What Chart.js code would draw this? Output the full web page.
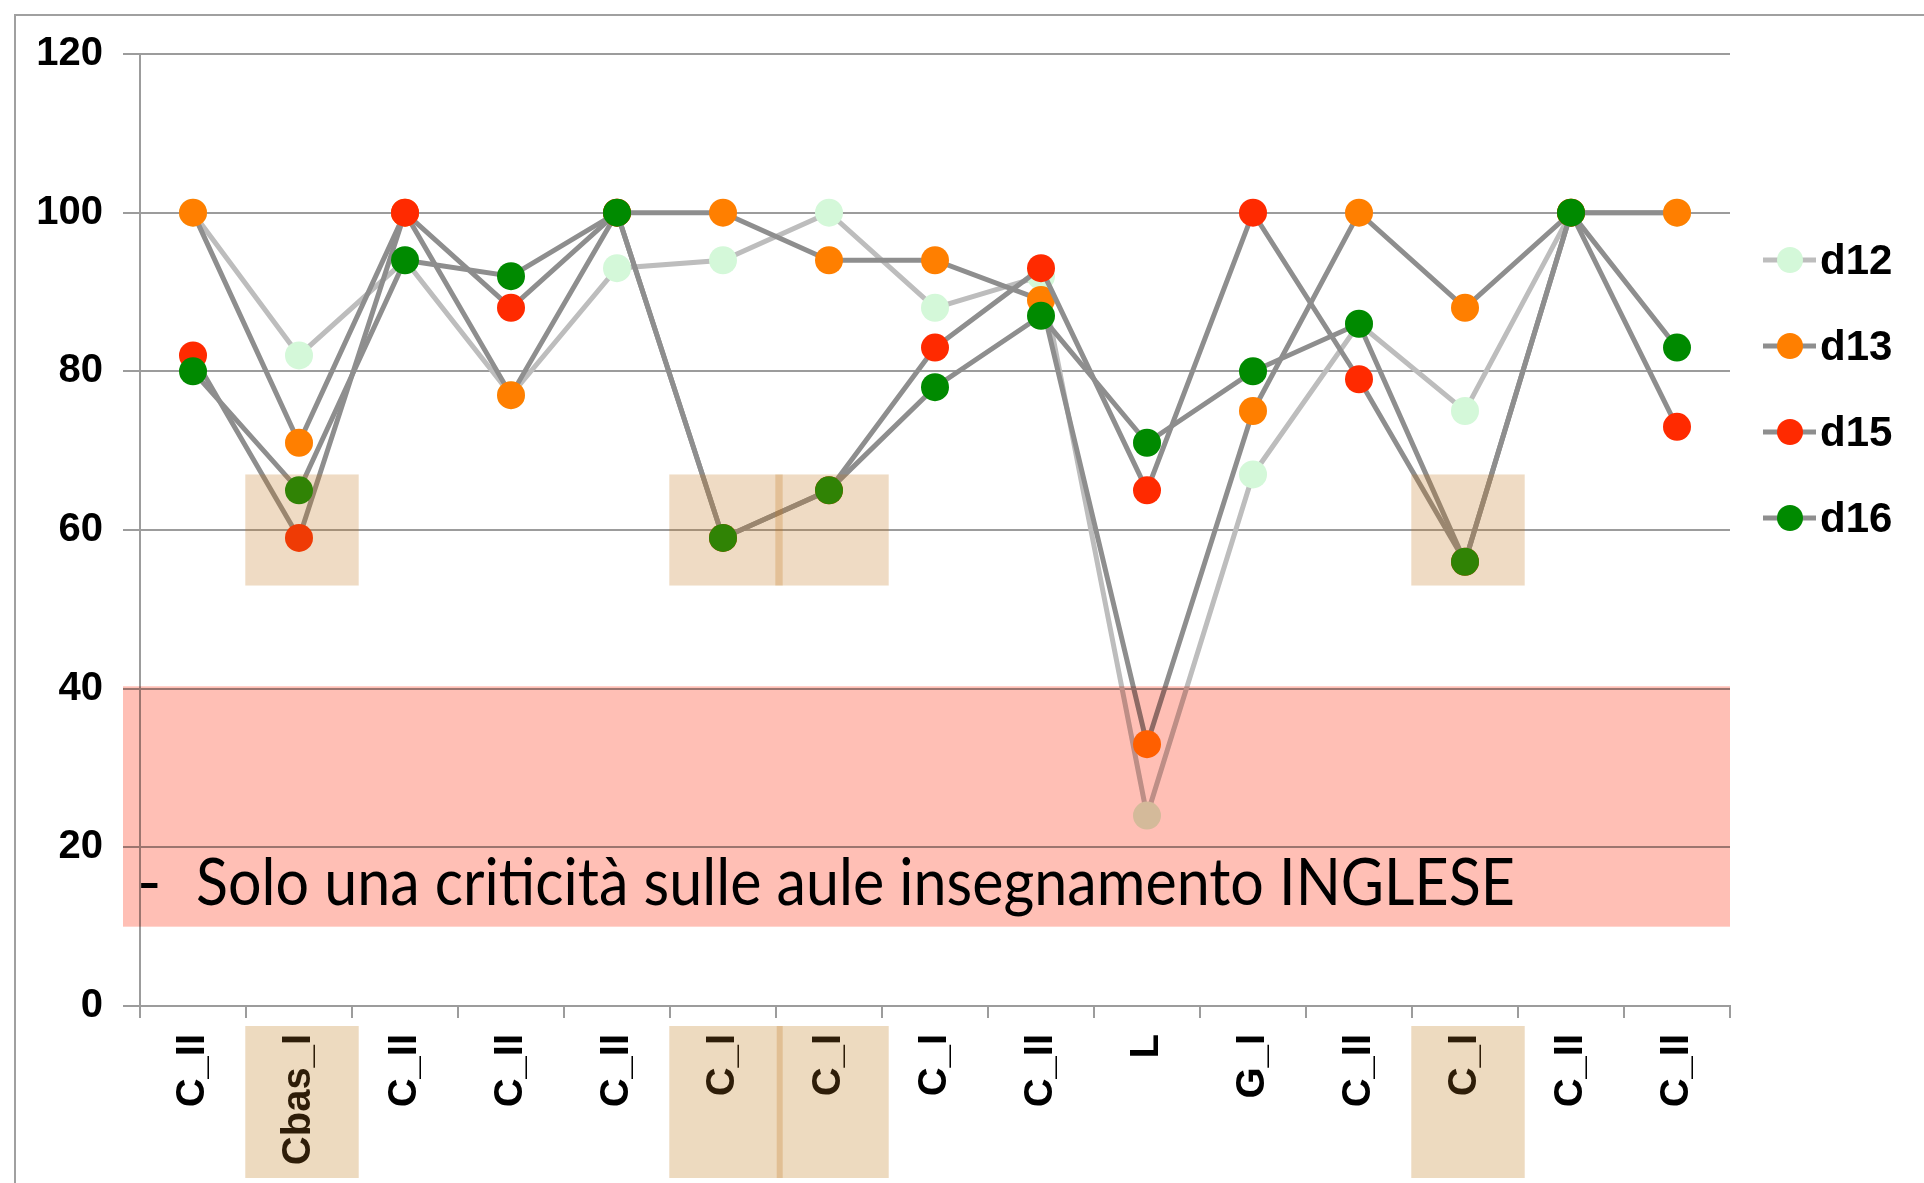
<!DOCTYPE html>
<html>
<head>
<meta charset="utf-8">
<script src="https://cdn.jsdelivr.net/npm/chart.js@4.4.0/dist/chart.umd.min.js"></script>
<style>
  html, body { margin: 0; padding: 0; background: #fff; }
</style>
</head>
<body>
<canvas id="corsiChart" width="1924" height="1183"></canvas>
<script>
var labels = ["C_II", "Cbas_I", "C_II", "C_II", "C_II", "C_I", "C_I", "C_I", "C_II", "L", "G_I", "C_II", "C_I", "C_II", "C_II"];

var d12 = [100, 82, 94, 77, 93, 94, 100, 88, 92, 24, 67, 86, 75, 100, 100];
var d13 = [100, 71, 100, 77, 100, 100, 94, 94, 89, 33, 75, 100, 88, 100, 100];
var d15 = [82, 59, 100, 88, 100, 59, 65, 83, 93, 65, 100, 79, 56, 100, 73];
var d16 = [80, 65, 94, 92, 100, 59, 65, 78, 87, 71, 80, 86, 56, 100, 83];

var yTicks = [0, 20, 40, 60, 80, 100, 120];

// categories marked with the beige boxes, and the value range they cover
var highlighted = [1, 5, 6, 12];
var highlightRange = [53, 67];

// red "critical" band
var criticalRange = [10, 40.3];
var noteText = "Solo una criticità sulle aule insegnamento INGLESE";

var gridGrey = '#9c9c9c';
var lineGrey = '#8e8e8e';
var boxTan = 'rgba(190, 110, 20, 0.25)';

function makeSet(name, values, pointColor, lineColor, order) {
  return {
    label: name,
    data: values,
    borderColor: lineColor,
    backgroundColor: pointColor,
    pointBackgroundColor: pointColor,
    pointBorderWidth: 0,
    pointRadius: 14,
    pointHoverRadius: 14,
    borderWidth: 5,
    tension: 0,
    fill: false,
    order: order
  };
}

var dataD12 = makeSet("d12", d12, '#d4f8d9', '#bdbdbd', 4);
var dataD13 = makeSet("d13", d13, '#ff7f00', lineGrey, 3);
var dataD15 = makeSet("d15", d15, '#ff2a00', lineGrey, 2);
var dataD16 = makeSet("d16", d16, '#008a00', lineGrey, 1);

function boxWidth(x) {
  return (x.getPixelForValue(1) - x.getPixelForValue(0)) * 1.07;
}

var overlays = {
  id: 'overlays',
  // label boxes go under the tick text
  beforeDraw: function(chart) {
    var ctx = chart.ctx;
    var x = chart.scales.x;
    var area = chart.chartArea;
    if (!area) return;
    var w = boxWidth(x);
    ctx.save();
    ctx.fillStyle = '#eddabf';
    highlighted.forEach(function(i) {
      var cx = x.getPixelForValue(i) + 3;
      ctx.fillRect(cx - w / 2, area.bottom + 20, w, chart.height - area.bottom - 25);
    });
    // darker seam where two neighbouring boxes touch
    ctx.fillStyle = boxTan;
    highlighted.forEach(function(i) {
      var cx = x.getPixelForValue(i) + 3;
      if (highlighted.indexOf(i + 1) >= 0) {
        ctx.fillRect(cx + w / 2 - 6, area.bottom + 20, 6, chart.height - area.bottom - 25);
      }
    });
    ctx.restore();
  },
  afterDraw: function(chart) {
    var ctx = chart.ctx;
    var x = chart.scales.x;
    var y = chart.scales.y;
    var area = chart.chartArea;
    var w = boxWidth(x);

    ctx.save();

    // beige boxes over the low points
    ctx.fillStyle = boxTan;
    highlighted.forEach(function(i) {
      var cx = x.getPixelForValue(i) + 3;
      var top = y.getPixelForValue(highlightRange[1]);
      var bot = y.getPixelForValue(highlightRange[0]);
      ctx.fillRect(cx - w / 2, top, w, bot - top);
    });

    // red band, multiplied over what is beneath
    var bTop = y.getPixelForValue(criticalRange[1]);
    var bBot = y.getPixelForValue(criticalRange[0]);
    ctx.globalCompositeOperation = 'multiply';
    ctx.fillStyle = '#ffbfb5';
    ctx.fillRect(area.left - 17, bTop, area.right - area.left + 17, bBot - bTop);
    ctx.globalCompositeOperation = 'source-over';

    ctx.fillStyle = '#000';
    ctx.font = '66px Lato, "Open Sans", sans-serif';
    ctx.textBaseline = 'alphabetic';
    ctx.textAlign = 'left';
    ctx.fillText('-', area.left - 3, bBot - 22);
    ctx.fillText(noteText, area.left + 56, bBot - 22, 1319);

    // legend
    var sets = [dataD12, dataD13, dataD15, dataD16];
    var ly = 260;
    sets.forEach(function(s) {
      ctx.strokeStyle = s.borderColor;
      ctx.lineWidth = 5;
      ctx.beginPath();
      ctx.moveTo(1763, ly);
      ctx.lineTo(1816, ly);
      ctx.stroke();
      ctx.fillStyle = s.pointBackgroundColor;
      ctx.beginPath();
      ctx.arc(1790, ly, 13, 0, Math.PI * 2);
      ctx.fill();
      ctx.fillStyle = '#000';
      ctx.font = 'bold 42px "Liberation Sans", Arial, sans-serif';
      ctx.textBaseline = 'middle';
      ctx.fillText(s.label, 1820, ly + 2);
      ly += 86;
    });

    // outer frame
    ctx.strokeStyle = '#a0a0a0';
    ctx.lineWidth = 2;
    ctx.strokeRect(15, 15, 2000, 2000);

    ctx.restore();
  }
};

var corsiChart = new Chart(document.getElementById("corsiChart"), {
  type: 'line',
  data: {
    labels: labels,
    datasets: [dataD12, dataD13, dataD15, dataD16]
  },
  options: {
    responsive: false,
    animation: false,
    layout: { padding: { top: 54, right: 194, left: 0, bottom: 0 } },
    plugins: {
      legend: { display: false },
      tooltip: { enabled: false }
    },
    scales: {
      x: {
        offset: true,
        grid: { offset: true, drawOnChartArea: false, drawTicks: true, tickLength: 12, color: gridGrey, lineWidth: 2 },
        border: { color: gridGrey, width: 2 },
        ticks: {
          autoSkip: false,
          maxRotation: 90,
          minRotation: 90,
          padding: 16,
          color: function(c) {
            return highlighted.indexOf(c.index) >= 0 ? '#2e1d08' : '#000';
          },
          font: { family: '"Liberation Sans", Arial, sans-serif', weight: 'bold', size: 40 }
        },
        afterFit: function(s) { s.height = 177; }
      },
      y: {
        min: 0,
        max: 120,
        afterBuildTicks: function(s) {
          s.ticks = yTicks.map(function(v) { return { value: v }; });
        },
        grid: { color: gridGrey, lineWidth: 2, tickLength: 17 },
        border: { color: gridGrey, width: 2 },
        ticks: {
          padding: 20,
          color: '#000',
          font: { family: '"Liberation Sans", Arial, sans-serif', weight: 'bold', size: 40 }
        },
        afterFit: function(s) { s.width = 140; }
      }
    }
  },
  plugins: [overlays]
});
</script>
</body>
</html>
